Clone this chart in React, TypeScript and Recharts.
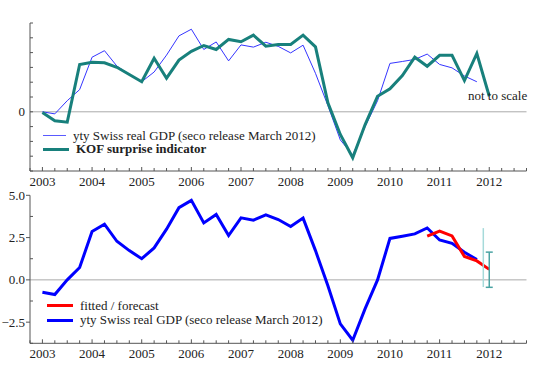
import React from 'react';
import { ComposedChart, Line, XAxis, YAxis, ReferenceLine, Scatter, ErrorBar } from 'recharts';

// Quarterly dates (2003Q1 .. 2011Q4) for GDP
const gdpQuarters = [
  2003, 2003.25, 2003.5, 2003.75, 2004, 2004.25, 2004.5, 2004.75,
  2005, 2005.25, 2005.5, 2005.75, 2006, 2006.25, 2006.5, 2006.75,
  2007, 2007.25, 2007.5, 2007.75, 2008, 2008.25, 2008.5, 2008.75,
  2009, 2009.25, 2009.5, 2009.75, 2010, 2010.25, 2010.5, 2010.75,
  2011, 2011.25, 2011.5, 2011.75,
];
// yty Swiss real GDP (bottom panel, %)
const gdpYty = [
  -0.73, -0.87, 0.0, 0.73, 2.86, 3.29, 2.28, 1.73,
  1.25, 1.89, 3.0, 4.27, 4.7, 3.37, 3.87, 2.62,
  3.67, 3.53, 3.85, 3.57, 3.15, 3.65, 1.73, -0.35,
  -2.6, -3.57, -1.7, 0.0, 2.45, 2.58, 2.72, 3.07,
  2.36, 2.16, 1.63, 1.2,
];
// yty Swiss real GDP in the top panel (standardised, "not to scale")
const gdpTop = [
  0.0, -0.14, 0.75, 1.5, 3.69, 4.13, 3.09, 2.53,
  2.03, 2.69, 3.83, 5.13, 5.58, 4.21, 4.72, 3.44,
  4.52, 4.37, 4.7, 4.42, 3.98, 4.5, 2.6, 0.42,
  -1.9, -2.92, -1.0, 0.75, 3.27, 3.4, 3.54, 3.9,
  3.2, 2.97, 2.42, 2.03,
];
// KOF surprise indicator quarters (2003Q1 .. 2012Q1)
const kofQuarters = [
  2003, 2003.25, 2003.5, 2003.75, 2004, 2004.25, 2004.5, 2004.75,
  2005, 2005.25, 2005.5, 2005.75, 2006, 2006.25, 2006.5, 2006.75,
  2007, 2007.25, 2007.5, 2007.75, 2008, 2008.25, 2008.5, 2008.75,
  2009, 2009.25, 2009.5, 2009.75, 2010, 2010.25, 2010.5, 2010.75,
  2011, 2011.25, 2011.5, 2011.75, 2012,
];
const kofValues = [
  -0.05, -0.61, -0.7, 3.2, 3.35, 3.31, 3.01, 2.52,
  2.03, 3.62, 2.27, 3.49, 4.09, 4.48, 4.21, 4.89,
  4.73, 5.18, 4.43, 4.55, 4.55, 5.18, 4.39, 0.61,
  -1.53, -3.11, -0.86, 1.05, 1.55, 2.45, 3.69, 3.08,
  3.82, 3.82, 2.11, 3.94, 1.05,
];
// fitted / forecast
const fitQuarters = [2010.75, 2011, 2011.25, 2011.5, 2011.75, 2012];
const fitValues = [2.58, 2.88, 2.6, 1.38, 1.12, 0.62];
// intervals for the forecast
const ciOuterX = 2011.88;
const ciOuterLow = -0.42;
const ciOuterHigh = 3.06;
const ciInnerX = 2012;
const ciInnerLow = -0.44;
const ciInnerHigh = 1.64;

const yearLabels = [2003, 2004, 2005, 2006, 2007, 2008, 2009, 2010, 2011, 2012];
const topYTicks = [-4, -3, -2, -1, 0, 1, 2, 3, 4, 5, 6];
const bottomYTicks = [-3.75, -2.5, -1.25, 0, 1.25, 2.5, 3.75, 5];
const bottomYLabels: Record<string, string> = { '5': '5.0', '2.5': '2.5', '0': '0.0', '-2.5': '\u22122.5' };

const toPoints = (xs: number[], ys: number[]) => xs.map((x, i) => ({ x, y: ys[i] }));

const gdpBottomData = toPoints(gdpQuarters, gdpYty);
const gdpTopData = toPoints(gdpQuarters, gdpTop);
const kofData = toPoints(kofQuarters, kofValues);
const fitData = toPoints(fitQuarters, fitValues);
const lastFit = fitValues[fitValues.length - 1];
const ciOuterMid = (ciOuterLow + ciOuterHigh) / 2;
const ciOuterData = [{ x: ciOuterX, y: ciOuterMid, err: [ciOuterMid - ciOuterLow, ciOuterHigh - ciOuterMid] }];
const ciInnerData = [{ x: ciInnerX, y: lastFit, err: [lastFit - ciInnerLow, ciInnerHigh - lastFit] }];

const quarterTicks = [2002.75, ...yearLabels.flatMap((y) => [y, y + 0.25, y + 0.5, y + 0.75])];

const FONT = '"Liberation Serif", "Times New Roman", serif';
const AXIS = '#555';
const TEXT = '#222';

const XTick = (props: any) => {
  const { x, y, payload } = props;
  const v = payload.value as number;
  const isYear = Math.abs(v - Math.round(v)) < 1e-6;
  return (
    <g>
      <line x1={x} x2={x} y1={y} y2={y - (isYear ? 4 : 3)} stroke={AXIS} strokeWidth={1} />
      {isYear && yearLabels.includes(v) && (
        <text x={x} y={y + 15} textAnchor="middle" fontSize={13} fontFamily={FONT} fill={TEXT}>
          {v}
        </text>
      )}
    </g>
  );
};

const TopYTick = (props: any) => {
  const { x, y, payload } = props;
  const v = payload.value as number;
  return (
    <g>
      <line x1={x} x2={x + 3} y1={y} y2={y} stroke={AXIS} strokeWidth={1} />
      {v === 0 && (
        <text x={x - 5} y={y + 4.5} textAnchor="end" fontSize={13} fontFamily={FONT} fill={TEXT}>
          0
        </text>
      )}
    </g>
  );
};

const BottomYTick = (props: any) => {
  const { x, y, payload } = props;
  const v = payload.value as number;
  const label = bottomYLabels[String(v)];
  return (
    <g>
      {label ? (
        <line x1={x - 4} x2={x} y1={y} y2={y} stroke={AXIS} strokeWidth={1} />
      ) : (
        <line x1={x} x2={x + 3} y1={y} y2={y} stroke={AXIS} strokeWidth={1} />
      )}
      {label && (
        <text x={x - 5} y={y + 4.5} textAnchor="end" fontSize={13} fontFamily={FONT} fill={TEXT}>
          {label}
        </text>
      )}
    </g>
  );
};

const LegendRow = ({ left, top, color, thick, text, bold, width }: any) => (
  <div style={{ position: 'absolute', left, top, height: 14, display: 'flex', alignItems: 'center', whiteSpace: 'nowrap' }}>
    <div style={{ width: width || 26, height: thick, background: color }} />
    <span style={{ marginLeft: 7, fontSize: 13, fontFamily: FONT, color: TEXT, fontWeight: bold ? 'bold' : 'normal', lineHeight: '14px' }}>
      {text}
    </span>
  </div>
);

export default function App() {
  return (
    <div style={{ position: 'absolute', left: 0, top: 0, width: 550, height: 367, background: '#fff', fontFamily: FONT }}>
      <div style={{ position: 'absolute', left: 0, top: 0 }}>
        <ComposedChart width={550} height={190} margin={{ top: 23, right: 23.5, bottom: 0, left: 0 }}>
          <XAxis
            type="number"
            dataKey="x"
            domain={[2002.75, 2012.75]}
            ticks={quarterTicks}
            interval={0}
            tickSize={0}
            tickMargin={0}
            tickLine={false}
            height={19}
            axisLine={{ stroke: AXIS }}
            tick={<XTick />}
          />
          <YAxis
            type="number"
            dataKey="y"
            domain={[-4, 6]}
            ticks={topYTicks}
            interval={0}
            tickSize={0}
            tickMargin={0}
            tickLine={false}
            width={30}
            axisLine={{ stroke: AXIS }}
            tick={<TopYTick />}
          />
          <ReferenceLine y={0} stroke="#aaa" strokeWidth={1} />
          <Line data={gdpTopData} dataKey="y" stroke="#3535ff" strokeWidth={1} dot={false} isAnimationActive={false} />
          <Line data={kofData} dataKey="y" stroke="#18807c" strokeWidth={3} dot={false} isAnimationActive={false} />
        </ComposedChart>
      </div>
      <div style={{ position: 'absolute', left: 0, top: 180 }}>
        <ComposedChart width={550} height={187} margin={{ top: 15.3, right: 23.5, bottom: 0, left: 0 }}>
          <XAxis
            type="number"
            dataKey="x"
            domain={[2002.75, 2012.75]}
            ticks={quarterTicks}
            interval={0}
            tickSize={0}
            tickMargin={0}
            tickLine={false}
            height={23.7}
            axisLine={{ stroke: AXIS }}
            tick={<XTick />}
          />
          <YAxis
            type="number"
            dataKey="y"
            domain={[-3.75, 5]}
            ticks={bottomYTicks}
            interval={0}
            tickSize={0}
            tickMargin={0}
            tickLine={false}
            width={30}
            axisLine={{ stroke: AXIS }}
            tick={<BottomYTick />}
          />
          <ReferenceLine y={0} stroke="#aaa" strokeWidth={1} />
          <Line data={gdpBottomData} dataKey="y" stroke="#0000ff" strokeWidth={3} dot={false} isAnimationActive={false} />
          <Line data={fitData} dataKey="y" stroke="#ff0000" strokeWidth={3} dot={false} isAnimationActive={false} />
          <Scatter data={ciOuterData} dataKey="y" isAnimationActive={false} shape={() => <g />}>
            <ErrorBar dataKey="err" direction="y" width={0} stroke="#a6dada" strokeWidth={1.5} isAnimationActive={false} />
          </Scatter>
          <Scatter data={ciInnerData} dataKey="y" isAnimationActive={false} shape={() => <g />}>
            <ErrorBar dataKey="err" direction="y" width={3.5} stroke="#4aa3a3" strokeWidth={1.5} isAnimationActive={false} />
          </Scatter>
        </ComposedChart>
      </div>
      <LegendRow left={43} top={128.7} color="#5a5aff" thick={1} width={23} text="yty Swiss real GDP (seco release March 2012)" />
      <LegendRow left={43} top={142.3} color="#18807c" thick={3} width={26} text="KOF surprise indicator" bold />
      <LegendRow left={47} top={298.7} color="#ff0000" thick={3} text="fitted / forecast" />
      <LegendRow left={47} top={313} color="#0000ff" thick={3} text="yty Swiss real GDP (seco release March 2012)" />
      <div style={{ position: 'absolute', left: 468, top: 89, fontSize: 13, fontFamily: FONT, color: TEXT, whiteSpace: 'nowrap', lineHeight: '14px' }}>
        not to scale
      </div>
    </div>
  );
}
